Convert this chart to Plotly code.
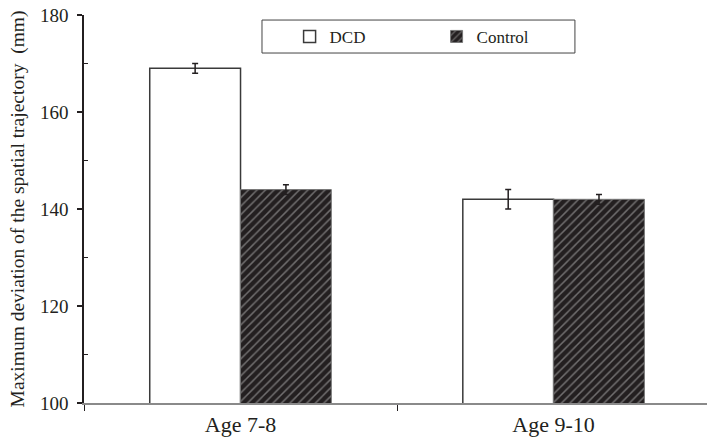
import plotly.graph_objects as go

categories = ["Age 7-8", "Age 9-10"]
dcd = [169, 142]
dcd_err = [1, 2]
control = [144, 142]
control_err = [1, 1]

FONT = "'Liberation Serif', 'Times New Roman', serif"
INK = "#231f20"

fig = go.Figure()
fig.add_trace(go.Bar(
    name="DCD", x=categories, y=dcd,
    marker=dict(color="white", line=dict(color="#3a3a3a", width=1.5)),
    error_y=dict(type="data", array=dcd_err, color=INK, thickness=1.5, width=3),
))
fig.add_trace(go.Bar(
    name="Control", x=categories, y=control,
    marker=dict(color=INK, line=dict(color="#777777", width=1),
                pattern=dict(shape="/", bgcolor=INK, fgcolor="#bdbdbd",
                             size=6, solidity=0.25, fillmode="overlay")),
    error_y=dict(type="data", array=control_err, color=INK, thickness=1.5, width=3),
))

fig.update_layout(
    width=707, height=442,
    margin=dict(l=84, r=0, t=15, b=39),
    paper_bgcolor="white", plot_bgcolor="white",
    barmode="group", bargap=0.42, bargroupgap=0,
    font=dict(family=FONT, size=18, color=INK),
    showlegend=True,
    legend=dict(orientation="h", x=0.33, xanchor="left", y=0.99, yanchor="top",
                bgcolor="rgba(0,0,0,0)", borderwidth=0,
                entrywidth=102, entrywidthmode="pixels",
                font=dict(family=FONT, size=17, color=INK)),
    shapes=[dict(type="rect", xref="paper", yref="paper",
                 x0=0.2857, x1=0.788, y0=0.902, y1=0.987,
                 line=dict(color="#444444", width=1), fillcolor="white", layer="below")],
)
fig.update_xaxes(
    range=[-0.5, 1.49], showline=True, linecolor="#8a8a8a", linewidth=1.5,
    tickson="boundaries", ticks="outside", ticklen=6, tickcolor=INK, tickwidth=1,
    showgrid=False, zeroline=False, ticklabelstandoff=1,
    tickfont=dict(family=FONT, size=22, color=INK),
)
fig.update_yaxes(
    range=[100, 180], tickvals=[100, 120, 140, 160, 180],
    showline=True, linecolor=INK, linewidth=1.5,
    ticks="outside", ticklen=5, tickcolor=INK, tickwidth=1.5,
    minor=dict(tickvals=[110, 130, 150, 170], ticks="inside", ticklen=4, tickcolor=INK, tickwidth=1),
    showgrid=False, zeroline=False, ticklabelstandoff=5,
    tickfont=dict(family=FONT, size=19, color=INK),
    title=dict(text="Maximum deviation of the spatial trajectory  (mm)", standoff=10,
               font=dict(family=FONT, size=19.5, color=INK)),
)

fig.write_html("out.html")
